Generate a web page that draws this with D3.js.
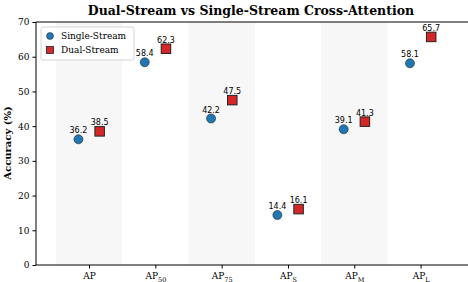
<!DOCTYPE html>
<meta charset="utf-8">
<head>
  <style>
    body { margin: 0; background: #fff; }
    text { font-family: "DejaVu Serif", serif; fill: #000; }
    .tick text { font-size: 9px; }
    .val { font-size: 8px; font-family: "DejaVu Sans", sans-serif; }
  </style>
  <script src="https://cdn.jsdelivr.net/npm/d3@7"></script>
</head>
<body>
  <svg width="468" height="282"></svg>
  <script>
    var metrics = ["AP", "AP_50", "AP_75", "AP_S", "AP_M", "AP_L"]
    var single = [36.2, 58.4, 42.2, 14.4, 39.1, 58.1]
    var dual = [38.5, 62.3, 47.5, 16.1, 41.3, 65.7]
    var yTicks = [0, 10, 20, 30, 40, 50, 60, 70]

    var svg = d3.select("svg")
    var pLeft = 36, pRight = 467, pTop = 22, pBottom = 265

    var x = d3.scaleLinear().domain([-0.8, 5.7]).range([pLeft, pRight])
    var y = d3.scaleLinear().domain([0, 70]).range([pBottom, pTop])
    var off = 0.16

    // alternating shaded bands
    svg.append("g").selectAll("rect")
      .data(metrics.map(function(d, i) { return i }).filter(function(i) { return i % 2 == 0 }))
      .enter().append("rect")
      .attr("x", function(i) { return x(i - 0.5) })
      .attr("y", pTop)
      .attr("width", x(1) - x(0))
      .attr("height", pBottom - pTop)
      .attr("fill", "#f7f7f7")

    // axes
    var yAxis = svg.append("g")
      .attr("transform", "translate(" + pLeft + ",0)")
      .call(d3.axisLeft(y).tickValues(yTicks).tickSize(3.5).tickPadding(3))
    yAxis.select(".domain").remove()

    var xAxis = svg.append("g")
      .attr("transform", "translate(0," + pBottom + ")")
      .call(d3.axisBottom(x).tickValues(d3.range(metrics.length)).tickSize(3.5).tickPadding(3).tickFormat(""))
    xAxis.select(".domain").remove()
    xAxis.selectAll(".tick line").attr("stroke", "#000")
    yAxis.selectAll(".tick line").attr("stroke", "#000")

    // subscripted tick labels
    xAxis.selectAll(".tick").each(function(i) {
      var parts = metrics[i].split("_")
      var t = d3.select(this).append("text")
        .attr("y", 14).attr("text-anchor", "middle").style("font-size", "9px")
      t.append("tspan").text(parts[0])
      if (parts[1]) t.append("tspan").attr("dy", 2.5).style("font-size", "6.5px").text(parts[1])
    })

    // frame (no right spine visible)
    var frame = svg.append("g").attr("stroke", "#000").attr("stroke-width", 1)
    frame.append("line").attr("x1", pLeft).attr("x2", pLeft).attr("y1", pTop).attr("y2", pBottom)
    frame.append("line").attr("x1", pLeft).attr("x2", 468).attr("y1", pBottom).attr("y2", pBottom)
    frame.append("line").attr("x1", pLeft).attr("x2", 468).attr("y1", pTop).attr("y2", pTop)

    // single-stream circles
    svg.append("g").selectAll("circle")
      .data(single).enter().append("circle")
      .attr("cx", function(d, i) { return x(i - off) })
      .attr("cy", function(d) { return y(d) })
      .attr("r", 4.5)
      .attr("fill", "#1f77b4")
      .attr("stroke", "#222")
      .attr("stroke-width", 0.6)

    // dual-stream squares
    svg.append("g").selectAll("rect")
      .data(dual).enter().append("rect")
      .attr("x", function(d, i) { return x(i + off) - 4.75 })
      .attr("y", function(d) { return y(d) - 4.75 })
      .attr("width", 9.5).attr("height", 9.5)
      .attr("fill", "#d62728")
      .attr("stroke", "#222")
      .attr("stroke-width", 1)

    // value labels
    svg.append("g").selectAll("text")
      .data(single).enter().append("text")
      .attr("class", "val")
      .attr("x", function(d, i) { return x(i - off) })
      .attr("y", function(d) { return y(d) - 6 })
      .attr("text-anchor", "middle")
      .text(function(d) { return d.toFixed(1) })
    svg.append("g").selectAll("text")
      .data(dual).enter().append("text")
      .attr("class", "val")
      .attr("x", function(d, i) { return x(i + off) })
      .attr("y", function(d) { return y(d) - 6 })
      .attr("text-anchor", "middle")
      .text(function(d) { return d.toFixed(1) })

    // legend
    var lg = svg.append("g").attr("transform", "translate(41,27)")
    lg.append("rect").attr("width", 93).attr("height", 33).attr("rx", 2)
      .attr("fill", "#fff").attr("fill-opacity", 0.85).attr("stroke", "#ccc").attr("stroke-width", 0.8)
    lg.append("circle").attr("cx", 9).attr("cy", 9).attr("r", 3.5).attr("fill", "#1f77b4").attr("stroke", "#222").attr("stroke-width", 0.5)
    lg.append("rect").attr("x", 5.5).attr("y", 19.5).attr("width", 7).attr("height", 7).attr("fill", "#d62728").attr("stroke", "#222").attr("stroke-width", 0.8)
    lg.append("text").attr("x", 20).attr("y", 12).style("font-size", "9px").text("Single-Stream")
    lg.append("text").attr("x", 20).attr("y", 26).style("font-size", "9px").text("Dual-Stream")

    // title and axis label
    svg.append("text").attr("x", 251).attr("y", 15).attr("text-anchor", "middle")
      .style("font-size", "12.5px").style("font-weight", "bold")
      .text("Dual-Stream vs Single-Stream Cross-Attention")
    svg.append("text").attr("transform", "translate(11,143) rotate(-90)").attr("text-anchor", "middle")
      .style("font-size", "10px").style("font-weight", "bold")
      .text("Accuracy (%)")
  </script>
</body>
